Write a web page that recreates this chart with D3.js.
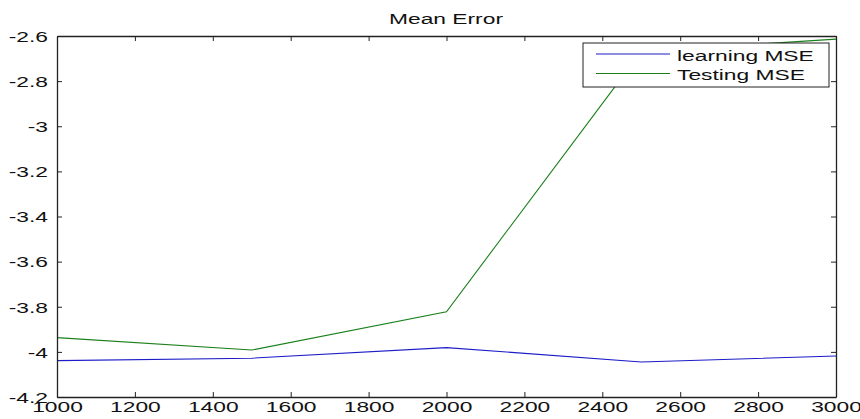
<!DOCTYPE html>
<html><head><meta charset="utf-8">
<script src="https://cdn.jsdelivr.net/npm/d3@7"></script>
<style>
body{margin:0;background:#fff}
text{font-family:"Liberation Sans",Arial,sans-serif;font-size:15px;fill:#111}
</style></head>
<body><svg id="c" width="860" height="419"></svg>
<script>
const xValues=[1000,1500,2000,2500,3000];
const learningMSE=[-4.039,-4.028,-3.981,-4.045,-4.018];
const testingMSE=[-3.937,-3.992,-3.822,-2.669,-2.614];
const xTicks=[1000,1200,1400,1600,1800,2000,2200,2400,2600,2800,3000];
const yTicks=[-4.2,-4,-3.8,-3.6,-3.4,-3.2,-3,-2.8,-2.6];
const seriesNames=["learning MSE","Testing MSE"];
const seriesColors=["#1c1cc8","#1b7f1b"];
const titleText="Mean Error";

const SX=1.52;
const L=57,R=836,T=36,B=397;
const svg=d3.select("#c");
const x=d3.scaleLinear().domain([1000,3000]).range([L,R]);
const y=d3.scaleLinear().domain([-4.2,-2.6]).range([B,T]);

svg.append("rect").attr("x",0).attr("y",0).attr("width",860).attr("height",419).attr("fill","#fff");

// lines
const series=[learningMSE,testingMSE];
const line=d3.line().x((d,i)=>x(xValues[i])).y(d=>y(d));
series.forEach((s,k)=>{
  svg.append("path").datum(s).attr("d",line).attr("fill","none")
    .attr("stroke",seriesColors[k]).attr("stroke-width",1.1);
});

// axes
const fmt=d=>String(d);
const gB=svg.append("g").attr("transform",`translate(0,${B})`)
  .call(d3.axisBottom(x).tickValues(xTicks).tickSizeInner(-5).tickSizeOuter(0).tickFormat(fmt));
const gT=svg.append("g").attr("transform",`translate(0,${T})`)
  .call(d3.axisTop(x).tickValues(xTicks).tickSizeInner(-5).tickSizeOuter(0).tickFormat(""));
const gL=svg.append("g").attr("transform",`translate(${L},0)`)
  .call(d3.axisLeft(y).tickValues(yTicks).tickSizeInner(-5).tickSizeOuter(0).tickFormat(fmt));
const gR=svg.append("g").attr("transform",`translate(${R},0)`)
  .call(d3.axisRight(y).tickValues(yTicks).tickSizeInner(-5).tickSizeOuter(0).tickFormat(""));
[gB,gT,gL,gR].forEach(g=>{
  g.select(".domain").attr("stroke","#222").attr("stroke-width",1.3);
  g.selectAll(".tick line").attr("stroke","#222");
  g.selectAll("text").attr("font-size",null).attr("font-family",null).attr("fill","#111");
});
gB.selectAll(".tick text").attr("y",15).attr("dy",0).attr("transform",`scale(${SX},1)`);
gL.selectAll(".tick text").attr("x",-9/SX).attr("dy","0.35em").attr("transform",`scale(${SX},1)`);

// title
svg.append("text").attr("transform",`translate(446,24) scale(${SX},1)`)
  .attr("text-anchor","middle").text(titleText);

// legend
const lg=svg.append("g");
lg.append("rect").attr("x",583).attr("y",43).attr("width",246).attr("height",44)
  .attr("fill","#fff").attr("stroke","#222").attr("stroke-width",1);
seriesNames.forEach((n,k)=>{
  const yy=54+k*19.5;
  lg.append("line").attr("x1",596).attr("x2",670).attr("y1",yy).attr("y2",yy)
    .attr("stroke",seriesColors[k]).attr("stroke-width",1.1);
  lg.append("text").attr("transform",`translate(677,${yy+6.5}) scale(${SX},1)`).text(n);
});
</script></body></html>
